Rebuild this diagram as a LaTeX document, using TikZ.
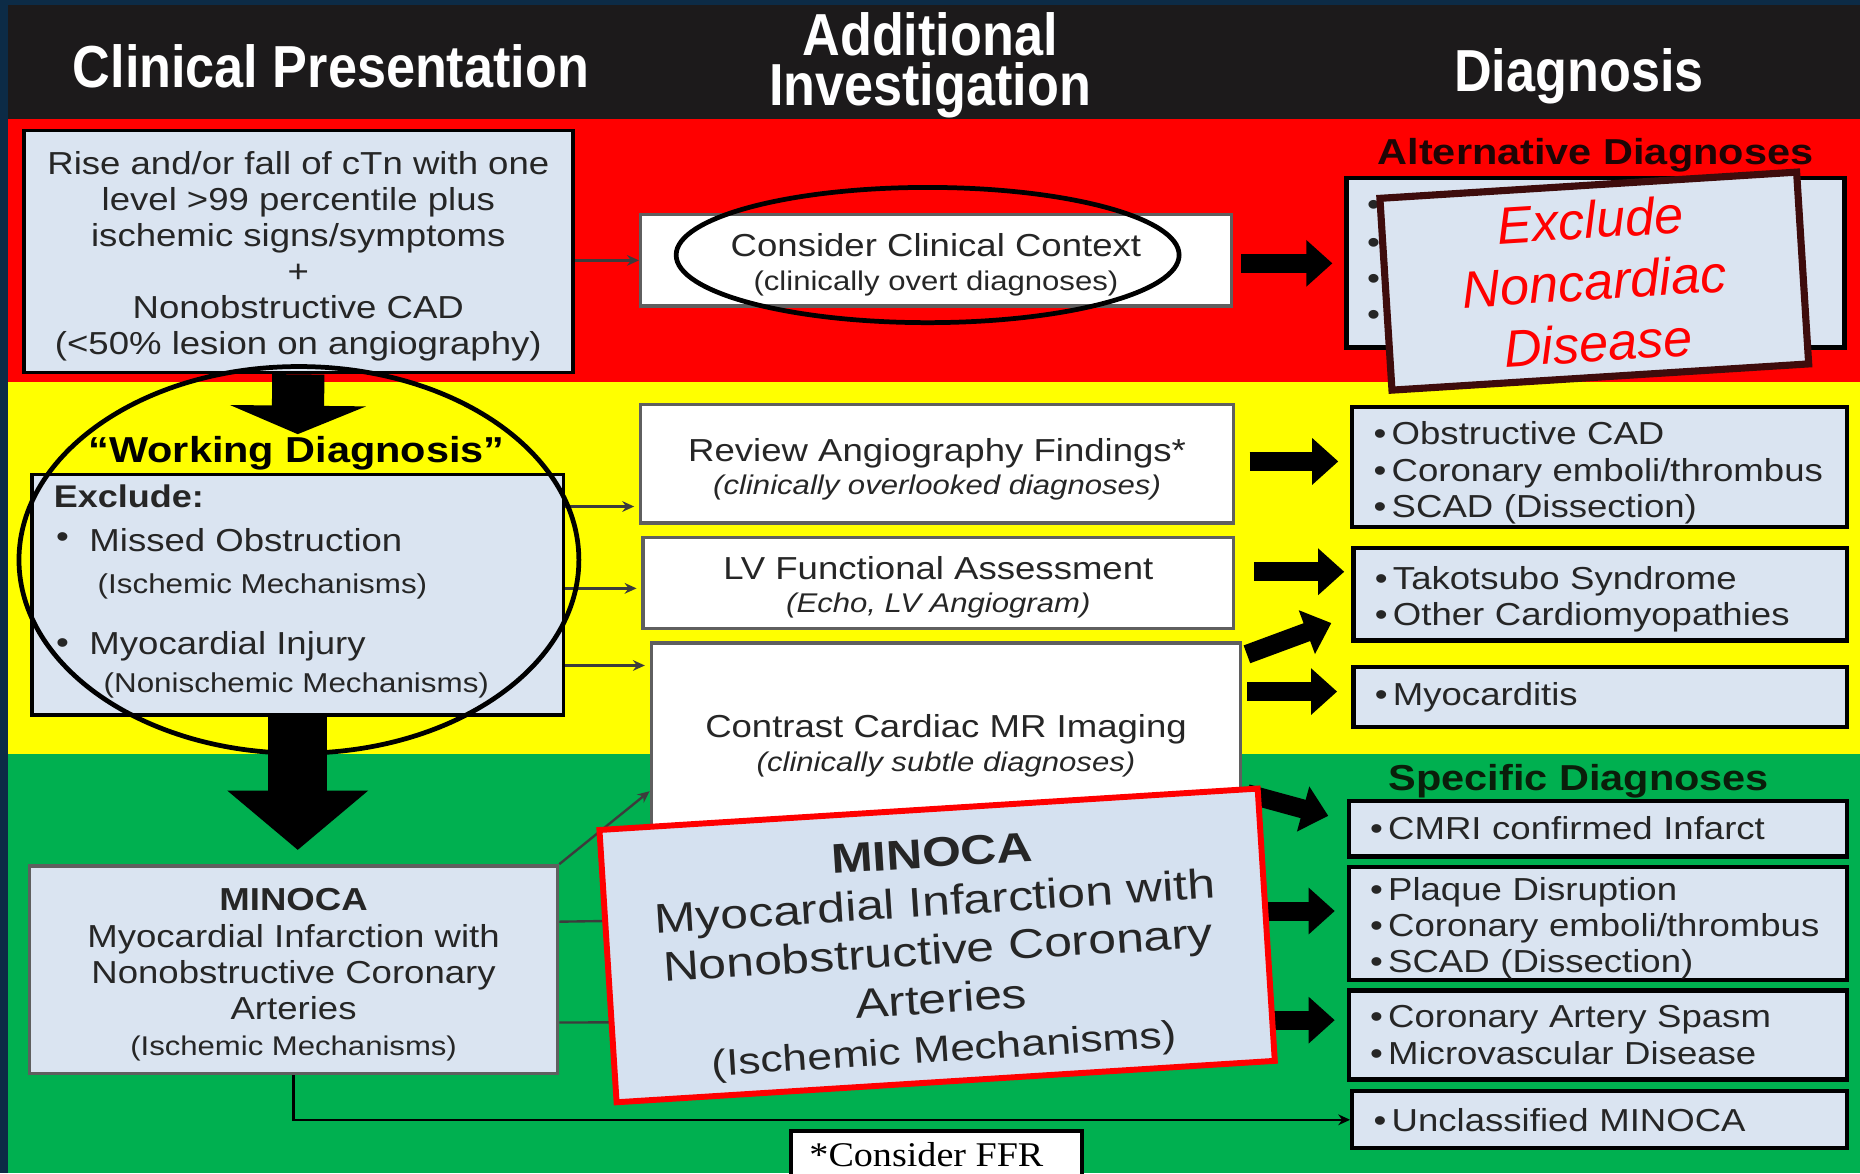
\documentclass[tikz,border=0pt]{standalone}
\usepackage{fontspec}
\setmainfont{Liberation Sans}
\newfontfamily\figfont{Liberation Sans}[FakeStretch=1.15]
\newfontfamily\ovfig{Liberation Sans}[FakeStretch=1.2]
\newfontfamily\headfont{Liberation Sans}[FakeStretch=0.88]
\newfontfamily\ovfont{Liberation Sans}
\newfontfamily\ffrfont{Liberation Serif}[FakeStretch=1.1]
\usetikzlibrary{arrows.meta,shapes.geometric}
\newcommand\fsz[2]{\fontsize{#1}{#2}\selectfont}
\newcommand\tst{\rule{0pt}{13.5pt}}
\newcommand\itm[1]{\mbox{•\,#1}}
\definecolor{navy}{RGB}{12,43,70}
\definecolor{headbg}{RGB}{28,26,27}
\definecolor{bandred}{RGB}{255,0,0}
\definecolor{bandyel}{RGB}{255,255,0}
\definecolor{bandgrn}{RGB}{0,176,80}
\definecolor{lb}{RGB}{218,228,241}
\definecolor{lbov}{RGB}{213,225,240}
\definecolor{txt}{RGB}{38,38,38}
\definecolor{midgray}{RGB}{95,95,95}
\definecolor{lngray}{RGB}{60,60,60}
\definecolor{maroon}{RGB}{62,12,12}
\definecolor{alttxt}{RGB}{30,5,5}
\definecolor{spectxt}{RGB}{10,30,10}
\tikzset{
 bluebox/.style={draw=black, line width=1.6pt, fill=lb, inner sep=0pt, align=center, text=txt, font=\figfont\fsz{13.4}{15.2}},
 whitebox/.style={draw=midgray, line width=1.4pt, fill=white, inner sep=0pt, align=center, text=txt, font=\figfont\fsz{13.4}{14}},
 listbox/.style={draw=black, line width=1.8pt, fill=lb, inner xsep=9pt, inner ysep=0pt, align=left, text=txt, font=\figfont\fsz{13.4}{15.25}},
 headtxt/.style={text=white, font=\headfont\bfseries\fsz{25}{21}, align=center, inner sep=0pt},
 sectitle/.style={font=\figfont\bfseries\fsz{15.2}{16}, inner sep=0pt},
 txtnode/.style={inner sep=0pt, text=txt, anchor=west},
 thinarr/.style={draw=lngray, line width=1pt, -{Stealth[length=5pt,width=4.5pt]}},
 thinln/.style={draw=lngray, line width=1pt},
 fatarr/.style={draw=black, line width=8pt, -{Triangle[length=11pt,width=19pt]}},
 ring/.style={draw=black, line width=2pt, ellipse, fill=none, inner sep=0pt},
}
\begin{document}
\begin{tikzpicture}[x=0.5pt,y=-0.5pt]
\useasboundingbox (0,0) rectangle (1568,989);
\begin{scope}
\clip (0,0) rectangle (1568,989);
% bands
\fill[navy] (0,0) rectangle (1568,989);
\fill[headbg] (7,4) rectangle (1568,100);
\fill[bandred] (7,100) rectangle (1568,322);
\fill[bandyel] (7,322) rectangle (1568,636);
\fill[bandgrn] (7,636) rectangle (1568,989);
% headers
\node[headtxt] (h1) at (279,56) {Clinical Presentation};
\node[headtxt] (h2) at (784,55) {Additional\\Investigation};
\node[headtxt] (h3) at (1331,64) {Diagnosis};
% red band
\node[bluebox, minimum width=231.5pt, minimum height=102pt] (clin) at (251.5,212) {\tst Rise and/or fall of cTn with one\\level >99 percentile plus\\ischemic signs/symptoms\\+\\Nonobstructive CAD\\(<50\% lesion on angiography)};
\node[whitebox, minimum width=249pt, minimum height=38.5pt] (ctx) at (789,219.5) {\tst Consider Clinical Context\\{\fsz{11.4}{14}(clinically overt diagnoses)}};
\node[sectitle, text=alttxt] (altT) at (1345,131) {Alternative Diagnoses};
\node[bluebox, line width=1.8pt, minimum width=210pt, minimum height=71.5pt] (alt) at (1345,221.5) {};
\foreach \yy/\nm in {175/ab1,207/ab2,238/ab3,268/ab4}
  \node[txtnode, font=\figfont\fsz{13.6}{15}] (\nm) at (1152,\yy) {•};
% yellow band
\node[sectitle, text=black] (wT) at (250,382) {“Working Diagnosis”};
\node[bluebox, minimum width=224pt, minimum height=101.5pt] (work) at (251,501.5) {};
\node[txtnode, font=\figfont\bfseries\fsz{13.2}{15}] (wEx) at (45,418) {Exclude:};
\node[txtnode, font=\figfont\fsz{13.4}{15}] (wb1) at (47,455) {•};
\node[txtnode, font=\figfont\fsz{13.4}{15}] (wt1) at (75,455) {Missed Obstruction};
\node[txtnode, font=\figfont\fsz{11.5}{14}] (ws1) at (82,494) {(Ischemic Mechanisms)};
\node[txtnode, font=\figfont\fsz{13.4}{15}] (wb2) at (47,545) {•};
\node[txtnode, font=\figfont\fsz{13.4}{15}] (wt2) at (75,545) {Myocardial Injury};
\node[txtnode, font=\figfont\fsz{11.5}{14}] (ws2) at (87,578) {(Nonischemic Mechanisms)};
\node[whitebox, minimum width=250pt, minimum height=50pt] (rev) at (790,391) {\rule{0pt}{14.2pt}Review Angiography Findings*\\{\itshape\fsz{11.4}{14}(clinically overlooked diagnoses)}};
\node[whitebox, minimum width=249pt, minimum height=38.5pt] (lv) at (791,491.5) {\tst LV Functional Assessment\\{\itshape\fsz{11.4}{14}(Echo, LV Angiogram)}};
\node[whitebox, minimum width=248.5pt, minimum height=83pt] (cmr) at (797.5,625) {\tst Contrast Cardiac MR Imaging\\{\itshape\fsz{11.4}{14}(clinically subtle diagnoses)}};
\node[listbox, text width=190.5pt, minimum height=50.5pt] (obs) at (1348.5,393.5) {\rule{0pt}{14.8pt}\itm{Obstructive CAD}\\\itm{Coronary emboli/thrombus}\\\itm{SCAD (Dissection)}};
\node[listbox, text width=190pt, minimum height=39pt] (tako) at (1349,501) {\rule{0pt}{13.8pt}\itm{Takotsubo Syndrome}\\\itm{Other Cardiomyopathies}};
\node[listbox, text width=190pt, minimum height=25.5pt] (myo) at (1349,587.5) {\itm{Myocarditis}};
% green band
\node[sectitle, text=spectxt] (specT) at (1331,659) {Specific Diagnoses};
\node[listbox, text width=192pt, minimum height=23.5pt] (cmri) at (1347,698.5) {\itm{CMRI confirmed Infarct}};
\node[listbox, text width=192pt, minimum height=47.5pt] (plq) at (1347,778.5) {\rule{0pt}{13.8pt}\itm{Plaque Disruption}\\\itm{Coronary emboli/thrombus}\\\itm{SCAD (Dissection)}};
\node[listbox, text width=192pt, minimum height=37.5pt] (spa) at (1347,872.5) {\itm{Coronary Artery Spasm}\\\itm{Microvascular Disease}};
\node[listbox, text width=190.5pt, minimum height=24pt] (uncl) at (1348.5,944) {\itm{Unclassified MINOCA}};
\node[bluebox, draw=midgray, line width=1.5pt, minimum width=222.5pt, minimum height=87.5pt] (minoca) at (247.5,817.5) {\rule{0pt}{13.6pt}{\bfseries MINOCA}\\Myocardial Infarction with\\Nonobstructive Coronary\\Arteries\\{\fsz{11.4}{14}(Ischemic Mechanisms)}};
\node[draw=black, line width=1.5pt, fill=white, minimum width=122.5pt, minimum height=26pt, inner sep=0pt, anchor=north] (ffr) at (789.5,952) {};
\node[font=\ffrfont\fsz{14.6}{16}, text=black, inner sep=0pt] (ffrT) at (781,973) {*Consider FFR};
% connectors
\draw[thinarr] (clin.east |- ctx.west) -- (ctx.west);
\draw[fatarr, shorten <=3.5pt, shorten >=5pt] (ctx.east |- 0,222) -- (alt.west |- 0,222);
\coordinate (wtip) at (251,366);
\draw[line width=22pt, -{Triangle[length=12pt,width=57pt]}] (clin.south) -- (wtip);
\draw[line width=25pt, -{Triangle[length=25pt,width=58pt]}, shorten >=6pt] (work.south) -- (work.south |- minoca.north);
\draw[thinarr, shorten >=2pt] (work.east |- 0,427) -- (rev.west |- 0,427);
\draw[thinarr, shorten >=2pt] (work.east |- 0,496) -- (lv.west |- 0,496);
\draw[thinarr, shorten >=2pt] (work.east |- 0,561) -- (cmr.west |- 0,561);
\draw[fatarr, shorten <=6pt, shorten >=5pt] (rev.east |- 0,389) -- (obs.west |- 0,389);
\draw[fatarr, shorten <=8pt, shorten >=3pt] (lv.east |- 0,482) -- (tako.west |- 0,482);
\draw[fatarr, shorten <=2pt, shorten >=9pt] (cmr.east |- 0,553) -- (tako.west |- 0,519);
\draw[fatarr, shorten <=2pt, shorten >=6pt] (cmr.east |- 0,583) -- (myo.west |- 0,583);
\draw[fatarr, shorten <=2pt, shorten >=8pt] (cmr.east |- 0,668) -- (cmri.west |- 0,692);
\draw[thinarr] (minoca.north east) -- (cmr.west |- 0,667);
\coordinate (pA) at (1066,768);
\coordinate (pB) at (1068,860);
\draw[thinln] (minoca.east |- 0,777) -- (pA);
\draw[thinln] (minoca.east |- 0,862) -- (pB);
\draw[fatarr, shorten >=5pt] (pA) -- (plq.west |- pA);
\draw[fatarr, shorten >=5pt] (pB) -- (spa.west |- pB);
\draw[thinarr, draw=black] (minoca.south) |- (uncl.west);
% overlays
\node[ring, minimum width=212pt, minimum height=57pt] (ring1) at (782,215) {};
\node[ring, minimum width=236pt, minimum height=163pt] (ring2) at (252,472) {};
\node[draw=maroon, line width=3pt, fill=lb, rotate=3.6, minimum width=176pt, minimum height=81pt, inner sep=0pt, align=center, text=red, font=\ovfont\itshape\fsz{22}{26}] (excl) at (1344,237) {Exclude\\Noncardiac\\Disease};
\node[draw=red, line width=2.5pt, fill=lbov, rotate=3.6, minimum width=278pt, minimum height=115pt, inner sep=0pt] (minov) at (790,797) {};
\node[rotate=3.6, inner sep=0pt, align=center, text=txt, font=\ovfig\fsz{17.5}{20.5}] (minovT) at (791,804) {{\bfseries MINOCA}\\Myocardial Infarction with\\Nonobstructive Coronary\\Arteries\\{\fsz{15.6}{18.5}(Ischemic Mechanisms)}};
\end{scope}
\end{tikzpicture}
\end{document}
